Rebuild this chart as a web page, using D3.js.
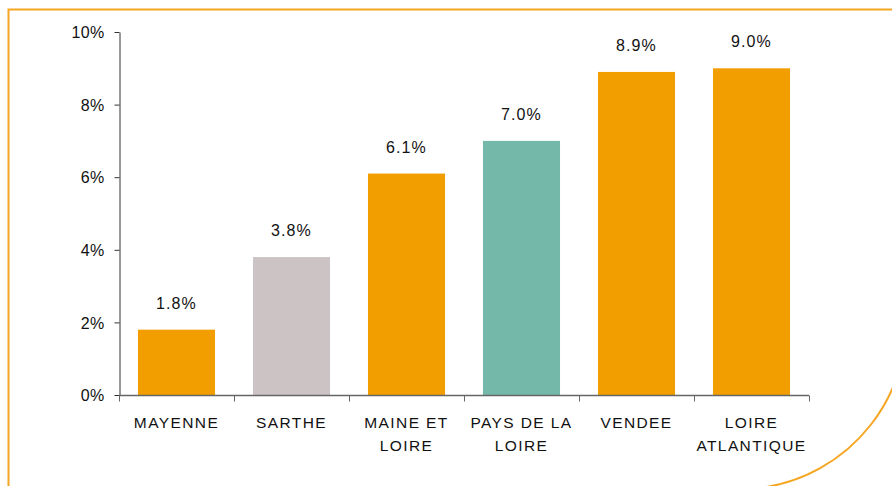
<!DOCTYPE html>
<html>
<head>
<meta charset="utf-8">
<script src="https://cdn.jsdelivr.net/npm/d3@7"></script>
<style>
  html, body { margin: 0; padding: 0; background: #fff; overflow: hidden; width: 892px; height: 486px; }
  svg { display: block; overflow: hidden; font-family: "Liberation Sans", Arial, sans-serif; }
</style>
</head>
<body>
<svg id="chart" width="892" height="486"></svg>
<script>
const categories = ["MAYENNE", "SARTHE", "MAINE ET LOIRE", "PAYS DE LA LOIRE", "VENDEE", "LOIRE ATLANTIQUE"];
const categoryLines = [["MAYENNE"], ["SARTHE"], ["MAINE ET", "LOIRE"], ["PAYS DE LA", "LOIRE"], ["VENDEE"], ["LOIRE", "ATLANTIQUE"]];
const values = [1.8, 3.8, 6.1, 7.0, 8.9, 9.0];
const valueLabels = ["1.8%", "3.8%", "6.1%", "7.0%", "8.9%", "9.0%"];
const barColors = ["#F39E00", "#CCC4C4", "#F39E00", "#73B8A9", "#F39E00", "#F39E00"];
const yTicks = [0, 2, 4, 6, 8, 10];
const yTickLabels = ["0%", "2%", "4%", "6%", "8%", "10%"];

const svg = d3.select("#chart");

// frame: top + left edges, and a rounded bottom-right corner arc
svg.append("path")
  .attr("d", "M8.5,520 V9.5 H904")
  .attr("fill", "none")
  .attr("stroke", "#F5A623")
  .attr("stroke-width", 2);
svg.append("path")
  .attr("d", "M905,300 A168,168 0 0 1 760,488")
  .attr("fill", "none")
  .attr("stroke", "#F5A623")
  .attr("stroke-width", 2);

const x = d3.scaleBand().domain(categories).range([119, 809]).paddingInner(0.33).paddingOuter(0.165);
const y = d3.scaleLinear().domain([0, 10]).range([395, 32]);

// bars
svg.selectAll("rect.bar").data(values).enter().append("rect")
  .attr("class", "bar")
  .attr("x", (d, i) => x(categories[i]))
  .attr("y", d => y(d))
  .attr("width", x.bandwidth())
  .attr("height", d => y(0) - y(d))
  .attr("fill", (d, i) => barColors[i]);

// y axis
const yAxis = svg.append("g").attr("transform", "translate(119.5,0)")
  .call(d3.axisLeft(y).tickValues(yTicks).tickFormat((d, i) => yTickLabels[i]).tickSize(5).tickSizeOuter(0).tickPadding(10));
yAxis.attr("font-size", null).attr("font-family", null);
yAxis.select(".domain").attr("stroke", "#333");
yAxis.selectAll(".tick line").attr("stroke", "#333");
yAxis.selectAll(".tick text").attr("font-size", 16).attr("fill", "#111").attr("letter-spacing", 0.3)
  .attr("dy", "0.35em");

// x axis
const xAxisG = svg.append("g").attr("transform", "translate(0,395.5)");
xAxisG.append("line").attr("x1", 119).attr("x2", 809).attr("stroke", "#666").attr("stroke-width", 1.5);
const half = (x.step() - x.bandwidth()) / 2;
const boundaries = categories.map(c => x(c) - half).concat([x(categories[categories.length - 1]) + x.bandwidth() + half]);
xAxisG.selectAll("line.tk").data(boundaries).enter().append("line")
  .attr("class", "tk")
  .attr("x1", d => Math.round(d) + 0.5).attr("x2", d => Math.round(d) + 0.5)
  .attr("y1", 0).attr("y2", 6)
  .attr("stroke", "#666");

// category labels
const catG = svg.append("g");
categories.forEach((c, i) => {
  const cx = x(c) + x.bandwidth() / 2;
  const t = catG.append("text")
    .attr("x", cx)
    .attr("y", 428)
    .attr("text-anchor", "middle")
    .attr("font-size", 15.5)
    .attr("letter-spacing", 1.4)
    .attr("fill", "#111");
  categoryLines[i].forEach((ln, j) => {
    t.append("tspan").attr("x", cx).attr("dy", j === 0 ? 0 : 23).text(ln);
  });
});

// value labels
svg.selectAll("text.val").data(values).enter().append("text")
  .attr("class", "val")
  .attr("x", (d, i) => x(categories[i]) + x.bandwidth() / 2)
  .attr("y", d => y(d) - 21)
  .attr("text-anchor", "middle")
  .attr("font-size", 16)
  .attr("letter-spacing", 1.1)
  .attr("fill", "#111")
  .text((d, i) => valueLabels[i]);
</script>
</body>
</html>
